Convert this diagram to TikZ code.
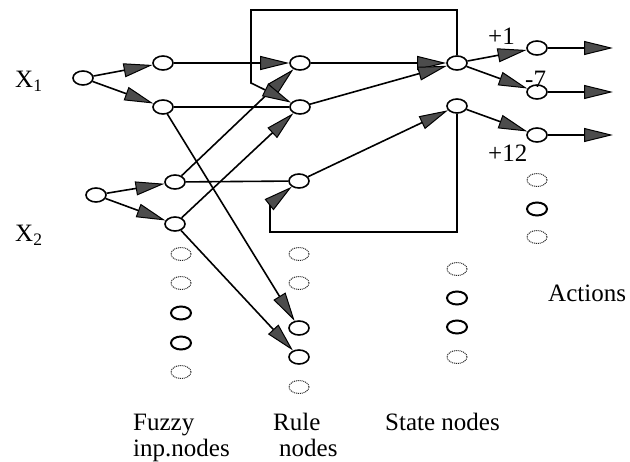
\documentclass[tikz,border=0pt]{standalone}
\usepackage{fontspec}
\setmainfont{Liberation Serif}
\usetikzlibrary{arrows.meta,shapes.geometric}
\begin{document}
\begin{tikzpicture}[x=1pt,y=-1pt,
  nd/.style={ellipse,draw,line width=1.6pt,minimum width=20pt,minimum height=14pt,inner sep=0pt},
  dotnd/.style={ellipse,draw=black!85,line width=1pt,dash pattern=on 1pt off 0.9pt,minimum width=20pt,minimum height=13pt,inner sep=0pt},
  boldnd/.style={ellipse,draw,line width=2pt,minimum width=20pt,minimum height=13pt,inner sep=0pt},
  ln/.style={line width=1.6pt},
  ar/.style={line width=1.6pt,-{Triangle[length=29pt,width=14pt,fill=black!70,line width=1pt]}},
  lbl/.style={font=\fontsize{25}{30}\selectfont,inner sep=0pt,anchor=base west}
]
\useasboundingbox (0,0) rectangle (630,462);
% main nodes
\node[nd] (x1) at (83,78) {};
\node[nd] (a1) at (163,63) {};
\node[nd] (a2) at (163,107) {};
\node[nd] (r1) at (300,63) {};
\node[nd] (r2) at (300,107) {};
\node[nd] (x2) at (96,195) {};
\node[nd] (b1) at (175,182) {};
\node[nd] (b2) at (175,224) {};
\node[nd] (r3) at (299,181) {};
\node[nd] (s1) at (457,63) {};
\node[nd] (s2) at (457,106) {};
\node[nd] (o1) at (537,48) {};
\node[nd] (o2) at (537,92) {};
\node[nd] (o3) at (537,135) {};
\node[nd] (r5) at (299,328) {};
\node[nd] (r6) at (299,357) {};
% fuzzy column
\node[dotnd] (f1) at (181,254) {};
\node[dotnd] (f2) at (181,283) {};
\node[boldnd] (f3) at (181,313) {};
\node[boldnd] (f4) at (181,343) {};
\node[dotnd] (f5) at (181,372) {};
% rule column
\node[dotnd] (q1) at (299,254) {};
\node[dotnd] (q2) at (299,283) {};
\node[dotnd] (q3) at (299,387) {};
% state column
\node[dotnd] (t1) at (457,269) {};
\node[boldnd] (t2) at (457,298) {};
\node[boldnd] (t3) at (457,327) {};
\node[dotnd] (t4) at (457,357) {};
% action column
\node[dotnd] (u1) at (537,180) {};
\node[boldnd] (u2) at (537,209) {};
\node[dotnd] (u3) at (537,237) {};
% free ends
\coordinate (e1) at (613,48);
\coordinate (e2) at (613,92);
\coordinate (e3) at (613,135);
\coordinate (c1) at (457,10);
\coordinate (c2) at (251,10);
\coordinate (c3) at (251,83);
\coordinate (d1) at (457,232);
\coordinate (d2) at (270,232);
\coordinate (d3) at (270,204);
% edges
\draw[ar] (x1) -- (a1);
\draw[ar] (x1) -- (a2);
\draw[ar] (a1) -- (r1);
\draw[ln] (a2) -- (r2);
\draw[ar] (a2) -- (r5);
\draw[ar] (x2) -- (b1);
\draw[ar] (x2) -- (b2);
\draw[ar] (b1) -- (r1);
\draw[ln] (b1) -- (r3);
\draw[ar] (b2) -- (r2);
\draw[ar] (b2) -- (r6);
\draw[ar] (r1) -- (s1);
\draw[ar] (r2) -- (s1);
\draw[ar] (r3) -- (s2);
\draw[ar] (s1) -- (o1);
\draw[ar] (s1) -- (o2);
\draw[ar] (s2) -- (o3);
\draw[ar] (o1) -- (e1);
\draw[ar] (o2) -- (e2);
\draw[ar] (o3) -- (e3);
% loops
\draw[ar] (s1) -- (c1) -- (c2) -- (c3) -- (r2);
\draw[ar] (s2) -- (d1) -- (d2) -- (d3) -- (r3);
% labels
\node[lbl] (lx1) at (15,88) {X\textsubscript{1}};
\node[lbl] (lx2) at (15,242) {X\textsubscript{2}};
\node[lbl] (lp1) at (488,45) {+1};
\node[lbl] (lm7) at (525,88) {-7};
\node[lbl] (lp12) at (488,162) {+12};
\node[lbl] (lfz) at (133,431) {Fuzzy};
\node[lbl] (lin) at (133,457) {inp.nodes};
\node[lbl] (lru) at (273,431) {Rule};
\node[lbl] (lrn) at (279,457) {nodes};
\node[lbl] (lst) at (385,431) {State nodes};
\node[lbl] (lac) at (548,302) {Actions};
\end{tikzpicture}
\end{document}
